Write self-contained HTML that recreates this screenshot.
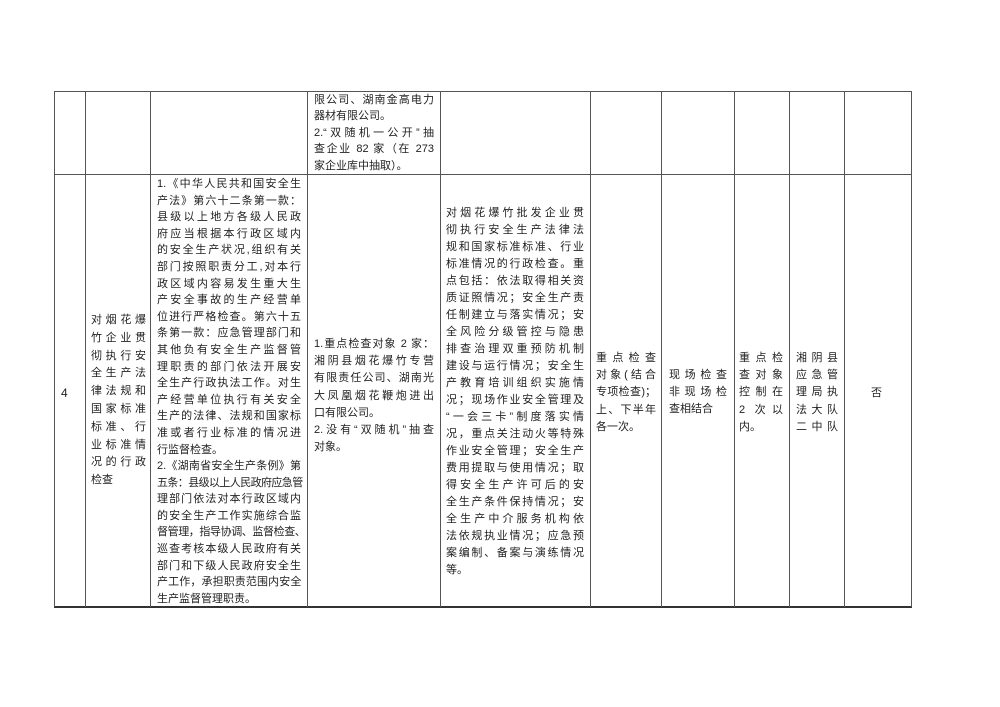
<!DOCTYPE html>
<html><head><meta charset="utf-8"><style>
body{margin:0;width:1000px;height:707px;background:#fff;position:relative;overflow:hidden;font-family:"Liberation Sans","Noto Sans CJK SC",sans-serif;color:#222;}
.v{position:absolute;width:1px;background:#555;top:91px;height:516px}
.h{position:absolute;height:1px;background:#555;left:54px;width:858px}
.c{position:absolute;font-size:11px;line-height:17.2px}
.c div{text-align:justify;text-align-last:justify;white-space:nowrap}
.c div.l{text-align-last:left}
</style></head><body>
<div class="h" style="top:91px"></div>
<div class="h" style="top:174px"></div>
<div class="h" style="top:606px;height:2px;background:#333"></div>
<div class="v" style="left:54px"></div>
<div class="v" style="left:85px"></div>
<div class="v" style="left:150px"></div>
<div class="v" style="left:307px"></div>
<div class="v" style="left:440px"></div>
<div class="v" style="left:590px"></div>
<div class="v" style="left:661px"></div>
<div class="v" style="left:734px"></div>
<div class="v" style="left:789px"></div>
<div class="v" style="left:844px"></div>
<div class="v" style="left:911px"></div>

<div class="c" style="left:314px;top:92px;width:120px;line-height:16.4px">
<div>限公司、湖南金高电力</div><div class="l">器材有限公司。</div><div>2.“双随机一公开”抽</div><div>查企业 82 家（在 273</div><div class="l">家企业库中抽取）。</div>
</div>

<div class="c" style="left:61px;top:385px;font-size:12px">4</div>

<div class="c" style="left:91px;top:312px;width:55px;line-height:17.8px">
<div>对烟花爆</div><div>竹企业贯</div><div>彻执行安</div><div>全生产法</div><div>律法规和</div><div>国家标准</div><div>标准、行</div><div>业标准情</div><div>况的行政</div><div class="l">检查</div>
</div>

<div class="c" style="left:157px;top:176px;width:144px;line-height:16.6px">
<div>1.《中华人民共和国安全生</div><div>产法》第六十二条第一款：</div><div>县级以上地方各级人民政</div><div>府应当根据本行政区域内</div><div>的安全生产状况,组织有关</div><div>部门按照职责分工,对本行</div><div>政区域内容易发生重大生</div><div>产安全事故的生产经营单</div><div>位进行严格检查。第六十五</div><div>条第一款：应急管理部门和</div><div>其他负有安全生产监督管</div><div>理职责的部门依法开展安</div><div>全生产行政执法工作。对生</div><div>产经营单位执行有关安全</div><div>生产的法律、法规和国家标</div><div>准或者行业标准的情况进</div><div class="l">行监督检查。</div><div>2.《湖南省安全生产条例》第</div><div style="letter-spacing:-0.6px">五条：县级以上人民政府应急管</div><div>理部门依法对本行政区域内</div><div>的安全生产工作实施综合监</div><div style="letter-spacing:-0.4px">督管理，指导协调、监督检查、</div><div>巡查考核本级人民政府有关</div><div>部门和下级人民政府安全生</div><div style="letter-spacing:-0.4px">产工作，承担职责范围内安全</div><div class="l">生产监督管理职责。</div>
</div>

<div class="c" style="left:314px;top:336px;width:120px">
<div>1.重点检查对象 2 家：</div><div>湘阴县烟花爆竹专营</div><div>有限责任公司、湖南光</div><div>大凤凰烟花鞭炮进出</div><div class="l">口有限公司。</div><div>2.没有“双随机”抽查</div><div class="l">对象。</div>
</div>

<div class="c" style="left:446px;top:205px;width:138px;line-height:17px">
<div>对烟花爆竹批发企业贯</div><div>彻执行安全生产法律法</div><div>规和国家标准标准、行业</div><div>标准情况的行政检查。重</div><div>点包括：依法取得相关资</div><div>质证照情况；安全生产责</div><div>任制建立与落实情况；安</div><div>全风险分级管控与隐患</div><div>排查治理双重预防机制</div><div>建设与运行情况；安全生</div><div>产教育培训组织实施情</div><div>况；现场作业安全管理及</div><div>“一会三卡”制度落实情</div><div>况，重点关注动火等特殊</div><div>作业安全管理；安全生产</div><div>费用提取与使用情况；取</div><div>得安全生产许可后的安</div><div>全生产条件保持情况；安</div><div>全生产中介服务机构依</div><div>法依规执业情况；应急预</div><div>案编制、备案与演练情况</div><div class="l">等。</div>
</div>

<div class="c" style="left:596px;top:350px;width:60px">
<div>重点检查</div><div>对象(结合</div><div>专项检查)；</div><div>上、下半年</div><div class="l">各一次。</div>
</div>
<div class="c" style="left:669px;top:367px;width:58px">
<div>现场检查</div><div>非现场检</div><div class="l">查相结合</div>
</div>
<div class="c" style="left:739px;top:350px;width:44px">
<div>重点检</div><div>查对象</div><div>控制在</div><div>2 次以</div><div class="l">内。</div>
</div>
<div class="c" style="left:796px;top:350px;width:42px">
<div>湘阴县</div><div>应急管</div><div>理局执</div><div>法大队</div><div>二中队</div>
</div>
<div class="c" style="left:871px;top:385px">否</div>
</body></html>
